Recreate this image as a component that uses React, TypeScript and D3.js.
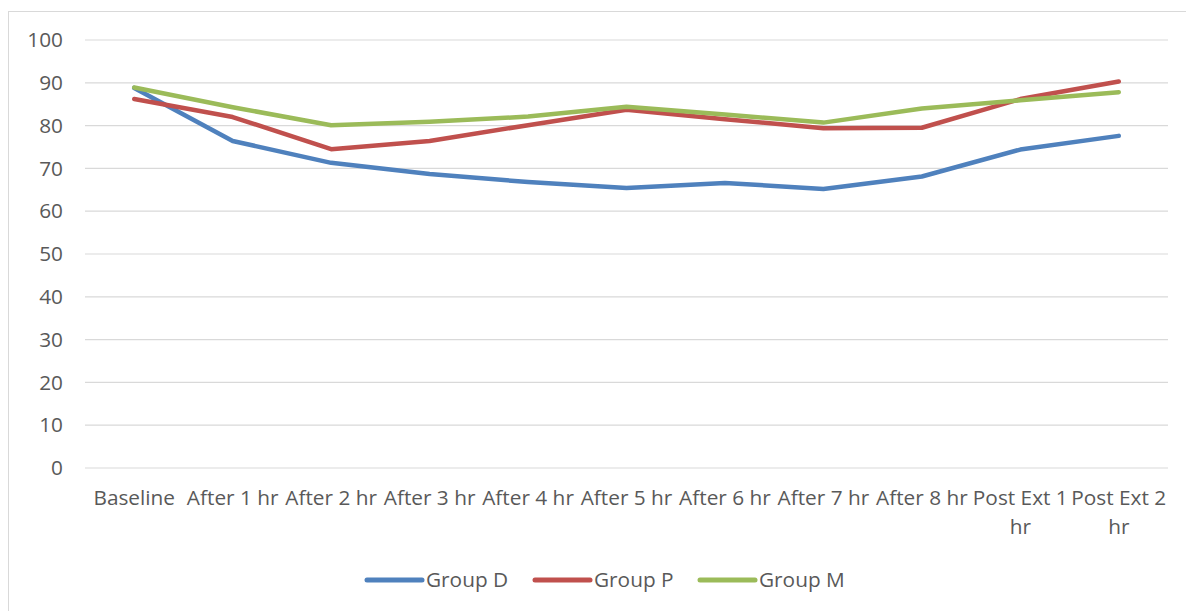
import React from "react";
import * as d3 from "d3";

const categories: string[][] = [
  ["Baseline"],
  ["After 1 hr"],
  ["After 2 hr"],
  ["After 3 hr"],
  ["After 4 hr"],
  ["After 5 hr"],
  ["After 6 hr"],
  ["After 7 hr"],
  ["After 8 hr"],
  ["Post Ext 1", "hr"],
  ["Post Ext 2", "hr"],
];
const groupD = [88.8, 76.4, 71.3, 68.7, 66.8, 65.4, 66.6, 65.2, 68.1, 74.4, 77.6];
const groupP = [86.2, 82.0, 74.5, 76.4, 80.1, 83.7, 81.5, 79.4, 79.5, 86.2, 90.3];
const groupM = [88.9, 84.3, 80.1, 80.9, 82.1, 84.4, 82.6, 80.7, 84.0, 85.9, 87.8];
const yTicks = [0, 10, 20, 30, 40, 50, 60, 70, 80, 90, 100];
const seriesNames = ["Group D", "Group P", "Group M"];
const seriesColors = ["#4f81bd", "#c0504d", "#9bbb59"];

const W = 1186;
const H = 611;
const plot = { left: 85, right: 1168, top: 40, bottom: 468 };
const FONT = "'Open Sans', Lato, sans-serif";
const TEXT = "#595959";
const FS = 20.8;

export default function App() {
  const x = d3
    .scaleBand<number>()
    .domain(d3.range(categories.length))
    .range([plot.left, plot.right]);
  const y = d3.scaleLinear().domain([0, 100]).range([plot.bottom, plot.top]);
  const line = d3
    .line<number>()
    .x((_, i) => (x(i) as number) + x.bandwidth() / 2)
    .y((d) => y(d));
  const series = [groupD, groupP, groupM];
  const legendX = [367, 535, 700];

  return (
    <svg
      width={W}
      height={H}
      style={{ position: "absolute", left: 0, top: 0, background: "#fff" }}
      fontFamily={FONT}
    >
      <rect x={8.5} y={11.5} width={W + 10} height={H + 10} fill="#fff" stroke="#d9d9d9" strokeWidth={1} />
      {yTicks.map((t) => (
        <g key={t}>
          <line x1={plot.left} x2={plot.right} y1={y(t)} y2={y(t)} stroke="#d9d9d9" strokeWidth={1.2} />
          <text x={63} y={y(t)} dy="0.35em" textAnchor="end" fontSize={FS} fill={TEXT}>
            {t}
          </text>
        </g>
      ))}
      {categories.map((lines, i) => (
        <text key={i} textAnchor="middle" fontSize={FS} fill={TEXT}>
          {lines.map((l, j) => (
            <tspan key={j} x={(x(i) as number) + x.bandwidth() / 2} y={505 + j * 29}>
              {l}
            </tspan>
          ))}
        </text>
      ))}
      {series.map((s, k) => (
        <path
          key={k}
          d={line(s) as string}
          fill="none"
          stroke={seriesColors[k]}
          strokeWidth={4.5}
          strokeLinejoin="round"
          strokeLinecap="round"
        />
      ))}
      {seriesNames.map((n, k) => (
        <g key={n}>
          <line
            x1={legendX[k]}
            x2={legendX[k] + 55}
            y1={580}
            y2={580}
            stroke={seriesColors[k]}
            strokeWidth={5}
            strokeLinecap="round"
          />
          <text x={legendX[k] + 59} y={580} dy="0.35em" fontSize={FS} fill={TEXT}>
            {n}
          </text>
        </g>
      ))}
    </svg>
  );
}
